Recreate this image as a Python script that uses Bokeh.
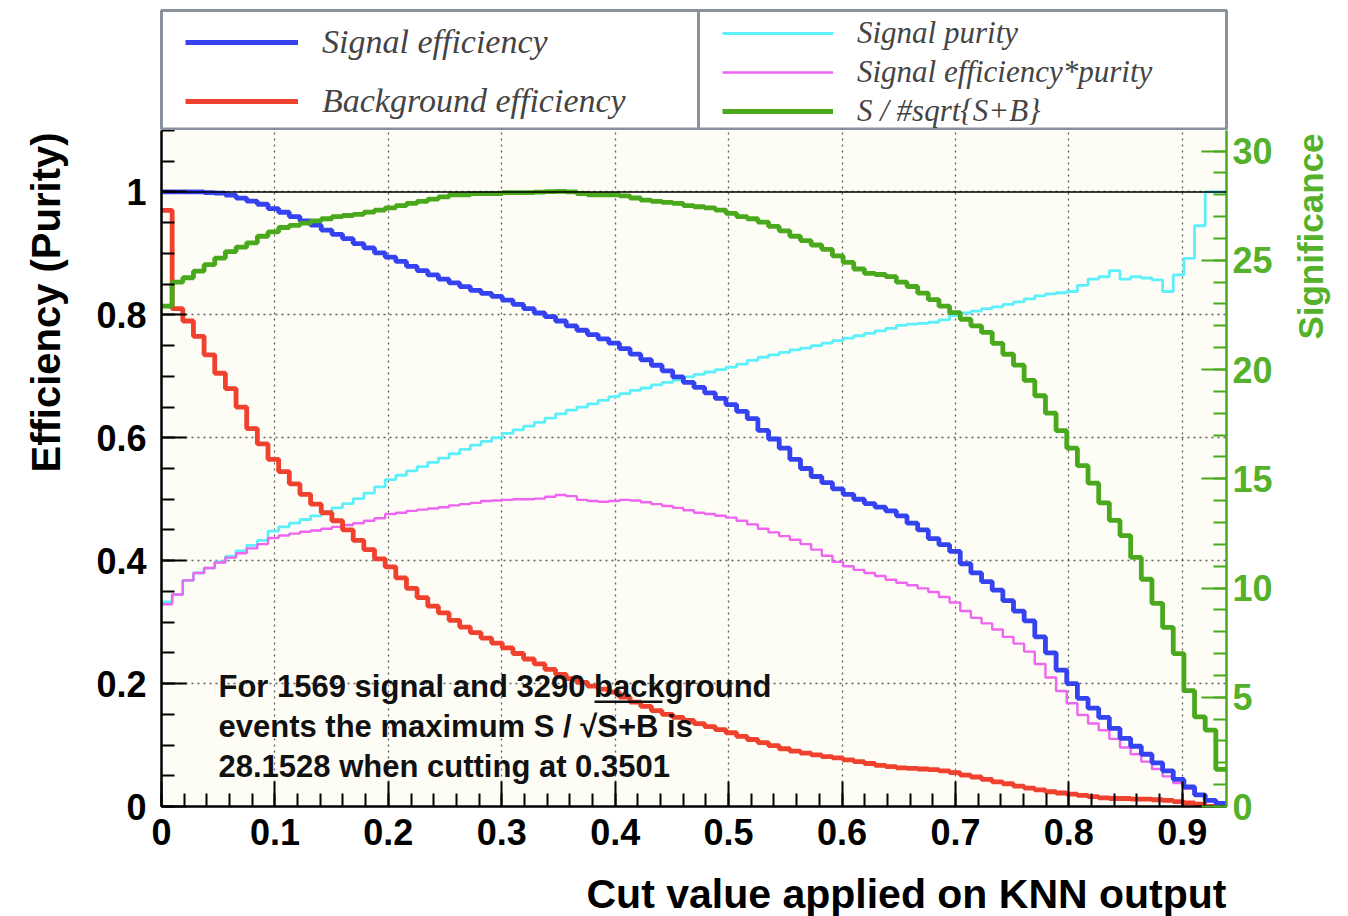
import math
import numpy as np
from bokeh.plotting import figure
from bokeh.layouts import column, row
from bokeh.models import (Range1d, LinearAxis, FixedTicker, Legend, LegendItem,
                          Label, Span, BoxAnnotation, CustomJSTickFormatter)
from bokeh.embed import file_html
from bokeh.resources import INLINE

# ---- binning of the cut scan ----
cut_min, cut_max = 0.0, 0.939
n_bins = 100

# ---- efficiency / purity per cut bin ----
signal_eff = [
    1.000, 1.000, 1.000, 1.000, 0.999, 0.998, 0.995, 0.990, 0.985, 0.980,
    0.973, 0.967, 0.960, 0.953, 0.946, 0.938, 0.931, 0.924, 0.916, 0.909,
    0.901, 0.894, 0.887, 0.879, 0.872, 0.865, 0.858, 0.852, 0.846, 0.840,
    0.835, 0.830, 0.824, 0.817, 0.810, 0.803, 0.797, 0.790, 0.782, 0.775,
    0.768, 0.761, 0.754, 0.745, 0.736, 0.727, 0.718, 0.709, 0.699, 0.690,
    0.682, 0.673, 0.664, 0.654, 0.643, 0.631, 0.612, 0.598, 0.583, 0.565,
    0.550, 0.537, 0.527, 0.517, 0.508, 0.500, 0.493, 0.487, 0.481, 0.473,
    0.461, 0.450, 0.436, 0.426, 0.415, 0.395, 0.380, 0.366, 0.352, 0.335,
    0.318, 0.302, 0.276, 0.250, 0.222, 0.200, 0.176, 0.160, 0.145, 0.127,
    0.111, 0.098, 0.085, 0.071, 0.058, 0.044, 0.032, 0.019, 0.010, 0.005,
]

background_eff = [
    0.970, 0.810, 0.790, 0.765, 0.735, 0.705, 0.680, 0.650, 0.615, 0.590,
    0.565, 0.545, 0.525, 0.508, 0.492, 0.478, 0.465, 0.450, 0.433, 0.418,
    0.403, 0.390, 0.372, 0.355, 0.340, 0.326, 0.315, 0.303, 0.292, 0.283,
    0.274, 0.266, 0.258, 0.249, 0.240, 0.232, 0.223, 0.215, 0.208, 0.202,
    0.196, 0.191, 0.186, 0.178, 0.170, 0.163, 0.156, 0.150, 0.145, 0.140,
    0.135, 0.130, 0.125, 0.120, 0.114, 0.109, 0.104, 0.099, 0.094, 0.090,
    0.087, 0.084, 0.081, 0.079, 0.076, 0.073, 0.070, 0.067, 0.065, 0.063,
    0.062, 0.061, 0.060, 0.058, 0.055, 0.051, 0.048, 0.044, 0.040, 0.037,
    0.033, 0.030, 0.027, 0.024, 0.022, 0.020, 0.018, 0.016, 0.014, 0.013,
    0.013, 0.012, 0.012, 0.011, 0.010, 0.008, 0.006, 0.004, 0.000, 0.000,
]

signal_purity = [
    0.333, 0.345, 0.368, 0.380, 0.388, 0.398, 0.407, 0.416, 0.425, 0.433,
    0.448, 0.455, 0.461, 0.467, 0.473, 0.479, 0.486, 0.493, 0.501, 0.510,
    0.520, 0.532, 0.539, 0.546, 0.553, 0.560, 0.567, 0.574, 0.581, 0.588,
    0.594, 0.600, 0.607, 0.613, 0.619, 0.625, 0.632, 0.639, 0.645, 0.650,
    0.655, 0.661, 0.667, 0.672, 0.677, 0.681, 0.686, 0.690, 0.694, 0.699,
    0.703, 0.707, 0.711, 0.715, 0.720, 0.726, 0.731, 0.735, 0.739, 0.743,
    0.746, 0.750, 0.754, 0.758, 0.762, 0.766, 0.770, 0.774, 0.778, 0.783,
    0.785, 0.786, 0.788, 0.792, 0.799, 0.803, 0.806, 0.810, 0.813, 0.817,
    0.821, 0.826, 0.831, 0.834, 0.836, 0.838, 0.848, 0.858, 0.862, 0.872,
    0.858, 0.862, 0.860, 0.857, 0.838, 0.865, 0.892, 0.945, 1.000, 1.000,
]

signal_eff_x_purity = [
    0.329, 0.345, 0.368, 0.380, 0.388, 0.397, 0.405, 0.412, 0.420, 0.427,
    0.437, 0.441, 0.444, 0.447, 0.449, 0.452, 0.455, 0.458, 0.461, 0.465,
    0.469, 0.476, 0.478, 0.481, 0.483, 0.485, 0.487, 0.490, 0.492, 0.494,
    0.497, 0.498, 0.499, 0.500, 0.500, 0.501, 0.504, 0.507, 0.505, 0.499,
    0.497, 0.496, 0.497, 0.499, 0.498, 0.495, 0.492, 0.489, 0.486, 0.482,
    0.478, 0.476, 0.473, 0.470, 0.465, 0.459, 0.452, 0.446, 0.440, 0.434,
    0.427, 0.418, 0.408, 0.398, 0.391, 0.385, 0.380, 0.375, 0.369, 0.364,
    0.360, 0.355, 0.349, 0.341, 0.332, 0.318, 0.307, 0.298, 0.288, 0.276,
    0.265, 0.252, 0.232, 0.210, 0.188, 0.168, 0.149, 0.135, 0.124, 0.110,
    0.096, 0.085, 0.073, 0.061, 0.049, 0.038, 0.029, 0.018, 0.010, 0.005,
]

# S / sqrt(S+B) per cut bin (right-hand scale)
significance = [
    22.9, 24.0, 24.2, 24.5, 24.8, 25.1, 25.4, 25.6, 25.8, 26.1,
    26.3, 26.5, 26.6, 26.7, 26.8, 26.9, 27.0, 27.05, 27.1, 27.2,
    27.3, 27.4, 27.5, 27.6, 27.7, 27.8, 27.9, 28.0, 28.0, 28.05,
    28.05, 28.05, 28.1, 28.1, 28.1, 28.12, 28.14, 28.15, 28.13, 28.05,
    28.0, 28.0, 28.0, 27.95, 27.85, 27.75, 27.7, 27.65, 27.6, 27.5,
    27.45, 27.4, 27.3, 27.15, 27.0, 26.9, 26.75, 26.55, 26.35, 26.1,
    25.9, 25.7, 25.5, 25.2, 24.9, 24.6, 24.4, 24.35, 24.25, 24.0,
    23.8, 23.5, 23.2, 22.9, 22.6, 22.3, 22.0, 21.7, 21.2, 20.7,
    20.2, 19.5, 18.8, 18.0, 17.2, 16.4, 15.6, 14.8, 13.9, 13.1,
    12.4, 11.4, 10.4, 9.3, 8.2, 7.0, 5.3, 4.1, 3.5, 1.7,
]

# ---- axes ----
x_ticks = [0.0, 0.1, 0.2, 0.3, 0.4, 0.5, 0.6, 0.7, 0.8, 0.9]
y_ticks = [0.0, 0.2, 0.4, 0.6, 0.8, 1.0]
sig_ticks = [0, 5, 10, 15, 20, 25, 30]
y_max = 1.1
sig_max = 30.94

# ---- summary numbers ----
n_signal = 1569
n_background = 3290
max_significance = 28.1528
best_cut = 0.3501

# ---- colours ----
C_BLUE = "#3442f0"
C_RED = "#f0402e"
C_CYAN = "#5ef0fa"
C_MAGENTA = "#ee66f0"
C_GREEN = "#4aa81c"
C_GREEN_TXT = "#55b02a"
C_BOX = "#8a909c"

# ---- page geometry ----
W, H = 1348, 916
TOP_H = 130            # legend strip
BOT_H = 50             # x-title strip
LEFT_W, RIGHT_W = 70, 58
MAIN_W = W - LEFT_W - RIGHT_W
MAIN_H = H - TOP_H - BOT_H
FRAME_L, FRAME_R, FRAME_B = 91, 64, 60
FW = MAIN_W - FRAME_L - FRAME_R        # 1065
FH = MAIN_H - FRAME_B                  # 676
X0 = LEFT_W + FRAME_L                  # left edge of the frame on the page


def strip(w, h, bottom_border=0):
    f = figure(width=w, height=h, x_range=Range1d(0, 1), y_range=Range1d(0, 1),
               output_backend="svg", toolbar_location=None, min_border=0,
               min_border_bottom=bottom_border,
               x_axis_location=None, y_axis_location=None,
               outline_line_color=None, background_fill_color="white",
               border_fill_color="white")
    f.xgrid.visible = False
    f.ygrid.visible = False
    return f


# ================= main frame =================
p = figure(width=MAIN_W, height=MAIN_H,
           x_range=Range1d(cut_min, cut_max), y_range=Range1d(0, y_max),
           output_backend="svg", toolbar_location=None,
           min_border_left=FRAME_L, min_border_right=FRAME_R,
           min_border_top=0, min_border_bottom=FRAME_B,
           background_fill_color="#fdfdf6", border_fill_color="white",
           outline_line_color=None)
p.extra_y_ranges = {"sig": Range1d(0, sig_max)}

fmt = CustomJSTickFormatter(code="return tick.toFixed(1).replace(/\\.0$/, '');")

xt = FixedTicker(ticks=x_ticks,
                 minor_ticks=[round(v, 3) for v in np.arange(0, cut_max, 0.02)])
yt = FixedTicker(ticks=y_ticks,
                 minor_ticks=[round(v, 3) for v in np.arange(0, y_max + 1e-9, 0.05)])
st = FixedTicker(ticks=sig_ticks, minor_ticks=list(range(0, 31)))

xax = p.xaxis[0]
yax = p.yaxis[0]
xax.ticker = xt
yax.ticker = yt
xax.formatter = fmt
yax.formatter = fmt

rax = LinearAxis(y_range_name="sig", ticker=st)
p.add_layout(rax, "right")

for ax, col, tcol, stand in ((xax, "black", "black", 12),
                             (yax, "black", "black", 15),
                             (rax, C_GREEN, C_GREEN_TXT, 6)):
    ax.major_tick_in = 25
    ax.major_tick_out = 0
    ax.minor_tick_in = 13
    ax.minor_tick_out = 0
    ax.axis_line_width = 2.5
    ax.axis_line_color = col
    ax.major_tick_line_width = 2
    ax.minor_tick_line_width = 2
    ax.major_tick_line_color = col
    ax.minor_tick_line_color = col
    ax.major_label_text_font = "Liberation Sans"
    ax.major_label_text_font_style = "bold"
    ax.major_label_text_font_size = "36px"
    ax.major_label_text_color = tcol
    ax.major_label_standoff = stand

p.xgrid.ticker = xt
p.ygrid.ticker = yt
for g in (p.xgrid, p.ygrid):
    g.grid_line_color = "#444444"
    g.grid_line_dash = "2 4"
    g.grid_line_width = 1.3
    g.grid_line_alpha = 0.85

p.add_layout(Span(location=1.0, dimension="width", line_color="black",
                  line_width=1.5))

edges = np.linspace(cut_min, cut_max, n_bins + 1)


def steps(vals):
    return list(vals) + [vals[-1]]


styles = {
    "pur": dict(line_color=C_CYAN, line_width=2.8),
    "ep": dict(line_color=C_MAGENTA, line_width=2.4),
    "bkg": dict(line_color=C_RED, line_width=4.8),
    "sig": dict(line_color=C_BLUE, line_width=4.8),
    "s": dict(line_color=C_GREEN, line_width=4.8),
}

p.step(edges, steps(signal_purity), mode="after", **styles["pur"])
p.step(edges, steps(signal_eff_x_purity), mode="after", **styles["ep"])
p.step(edges, steps(background_eff), mode="after", **styles["bkg"])
p.step(edges, steps(signal_eff), mode="after", **styles["sig"])
p.step(edges, steps(significance), mode="after", y_range_name="sig",
       **styles["s"])

# ---- summary text ----
summary = [
    f"For {n_signal} signal and {n_background} background",
    "events the maximum S / \u221aS+B is",
    f"{max_significance} when cutting at {best_cut}",
]
for i, line in enumerate(summary):
    p.add_layout(Label(x=57, y=120 - 40 * i, x_units="screen", y_units="screen",
                       text=line, text_align="left", text_baseline="middle",
                       text_font="Liberation Sans", text_font_style="bold",
                       text_font_size="31px", text_color="#111111"))
# bar of the square-root sign
p.add_layout(BoxAnnotation(left=433, right=501, bottom=103.5, top=106,
                           left_units="screen", right_units="screen",
                           bottom_units="screen", top_units="screen",
                           fill_color="#111111", fill_alpha=1.0,
                           line_color=None))

# ================= legend strip =================
top = strip(W, TOP_H)
box_split = 698
for l, r in ((X0, box_split), (box_split, X0 + FW)):
    top.add_layout(BoxAnnotation(left=l, right=r, bottom=1.5, top=TOP_H - 10,
                                 left_units="screen", right_units="screen",
                                 bottom_units="screen", top_units="screen",
                                 fill_color="white", fill_alpha=1.0,
                                 line_color=C_BOX, line_alpha=1.0,
                                 line_width=3, level="underlay"))

# legend keys: point-less renderers carrying each curve's line style
nan = [float("nan")]
k = {name: top.line(nan, nan, **st_) for name, st_ in styles.items()}

legend_font = dict(label_text_font="Liberation Serif",
                   label_text_font_style="italic",
                   label_text_baseline="middle",
                   border_line_color=None, background_fill_alpha=0.0,
                   padding=0, margin=0, label_standoff=24)
leg_left = Legend(
    items=[LegendItem(label="Signal efficiency", renderers=[k["sig"]]),
           LegendItem(label="Background efficiency", renderers=[k["bkg"]])],
    location=(X0 + 24, 9), spacing=19,
    glyph_width=113, glyph_height=40, label_height=40,
    label_text_font_size="34px", **legend_font)
leg_right = Legend(
    items=[LegendItem(label="Signal purity", renderers=[k["pur"]]),
           LegendItem(label="Signal efficiency*purity", renderers=[k["ep"]]),
           LegendItem(label="S / #sqrt{S+B}", renderers=[k["s"]])],
    location=(box_split + 24, 1), spacing=3,
    glyph_width=111, glyph_height=32, label_height=32,
    label_text_font_size="31px", **legend_font)
top.add_layout(leg_left)
top.add_layout(leg_right)

# ================= axis-title strips =================
title_font = dict(text_font="Liberation Sans", text_font_style="bold")

# side strips share the frame's bottom border, so y is measured from the
# frame's bottom edge; vertical titles sit at the upper end of their axis
left = strip(LEFT_W, MAIN_H, FRAME_B)
left.add_layout(Label(x=45, y=FH - 172, x_units="screen", y_units="screen",
                      text="Efficiency (Purity)", angle=math.pi / 2,
                      text_align="center", text_baseline="middle",
                      text_color="black", text_font_size="40px", **title_font))

right = strip(RIGHT_W, MAIN_H, FRAME_B)
right.add_layout(Label(x=1310 - (LEFT_W + MAIN_W), y=FH - 106,
                       x_units="screen", y_units="screen",
                       text="Significance", angle=math.pi / 2,
                       text_align="center", text_baseline="middle",
                       text_color=C_GREEN_TXT, text_font_size="35px",
                       **title_font))

bottom = strip(W, BOT_H)
bottom.add_layout(Label(x=X0 + FW, y=BOT_H - 27, x_units="screen",
                        y_units="screen",
                        text="Cut value applied on KNN output",
                        text_align="right", text_baseline="middle",
                        text_color="black", text_font_size="41px",
                        **title_font))

page = column(top, row(left, p, right), bottom)
open("out.html", "w").write(file_html(page, INLINE))
